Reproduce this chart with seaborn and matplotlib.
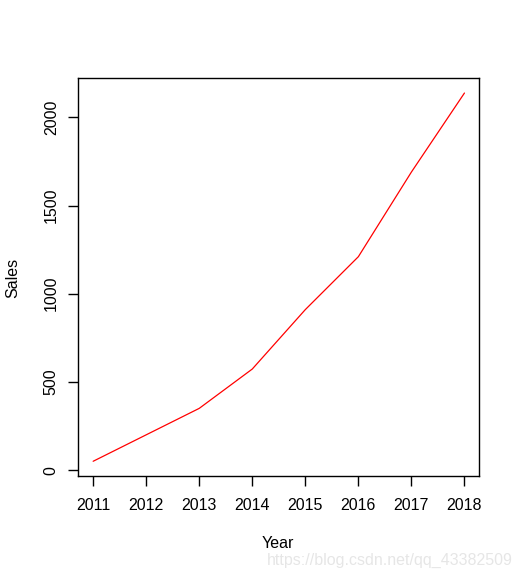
import matplotlib
matplotlib.use("Agg")
import matplotlib.pyplot as plt
import seaborn as sns
import pandas as pd

years = [2011, 2012, 2013, 2014, 2015, 2016, 2017, 2018]
sales = [50, 200, 350, 573, 910, 1210, 1690, 2138]
y_ticks = [0, 500, 1000, 1500, 2000]

sns.set_theme(style="white")
plt.rcParams['font.family'] = ['Liberation Sans', 'DejaVu Sans']

df = pd.DataFrame({"Year": years, "Sales": sales})

fig = plt.figure(figsize=(5.2, 5.74), dpi=100)
ax = fig.add_axes([78.3 / 520, 1 - 476 / 574, 401 / 520, 397.7 / 574])

sns.lineplot(data=df, x="Year", y="Sales", color="#ff0000", linewidth=0.9, ax=ax)

lo, hi = min(sales), max(sales)
r = hi - lo
ax.set_ylim(lo - 0.04 * r, hi + 0.04 * r)
ax.set_xlim(years[0] - 0.04 * (years[-1] - years[0]), years[-1] + 0.04 * (years[-1] - years[0]))

ax.set_xticks(years)
ax.set_xticklabels([str(y) for y in years])
ax.set_yticks(y_ticks)
ax.set_yticklabels([str(v) for v in y_ticks], rotation=90, va="center")

for s in ax.spines.values():
    s.set_visible(True)
    s.set_color("black")
    s.set_linewidth(1.0)

ax.tick_params(axis="both", which="major", direction="out", length=7, width=1,
               color="black", labelsize=11.5, labelcolor="black",
               bottom=True, left=True)
ax.tick_params(axis="x", pad=9)
ax.tick_params(axis="y", pad=7)

ax.set_xlabel("Year", fontsize=11.5, color="black")
ax.set_ylabel("Sales", fontsize=11.5, color="black")
ax.xaxis.label.set_va("center")
ax.yaxis.label.set_va("center")
ax.xaxis.set_label_coords(0.498, (476 - 544) / 397.7)
ax.yaxis.set_label_coords((12.5 - 78.3) / 401, 0.498)
ax.grid(False)

fig.text(390 / 520, 1 - 560 / 574, "https://blog.csdn.net/qq_43382509",
         ha="center", va="center", fontsize=11.5, color="#e6e6e6")

fig.savefig("out.png", dpi=100)
